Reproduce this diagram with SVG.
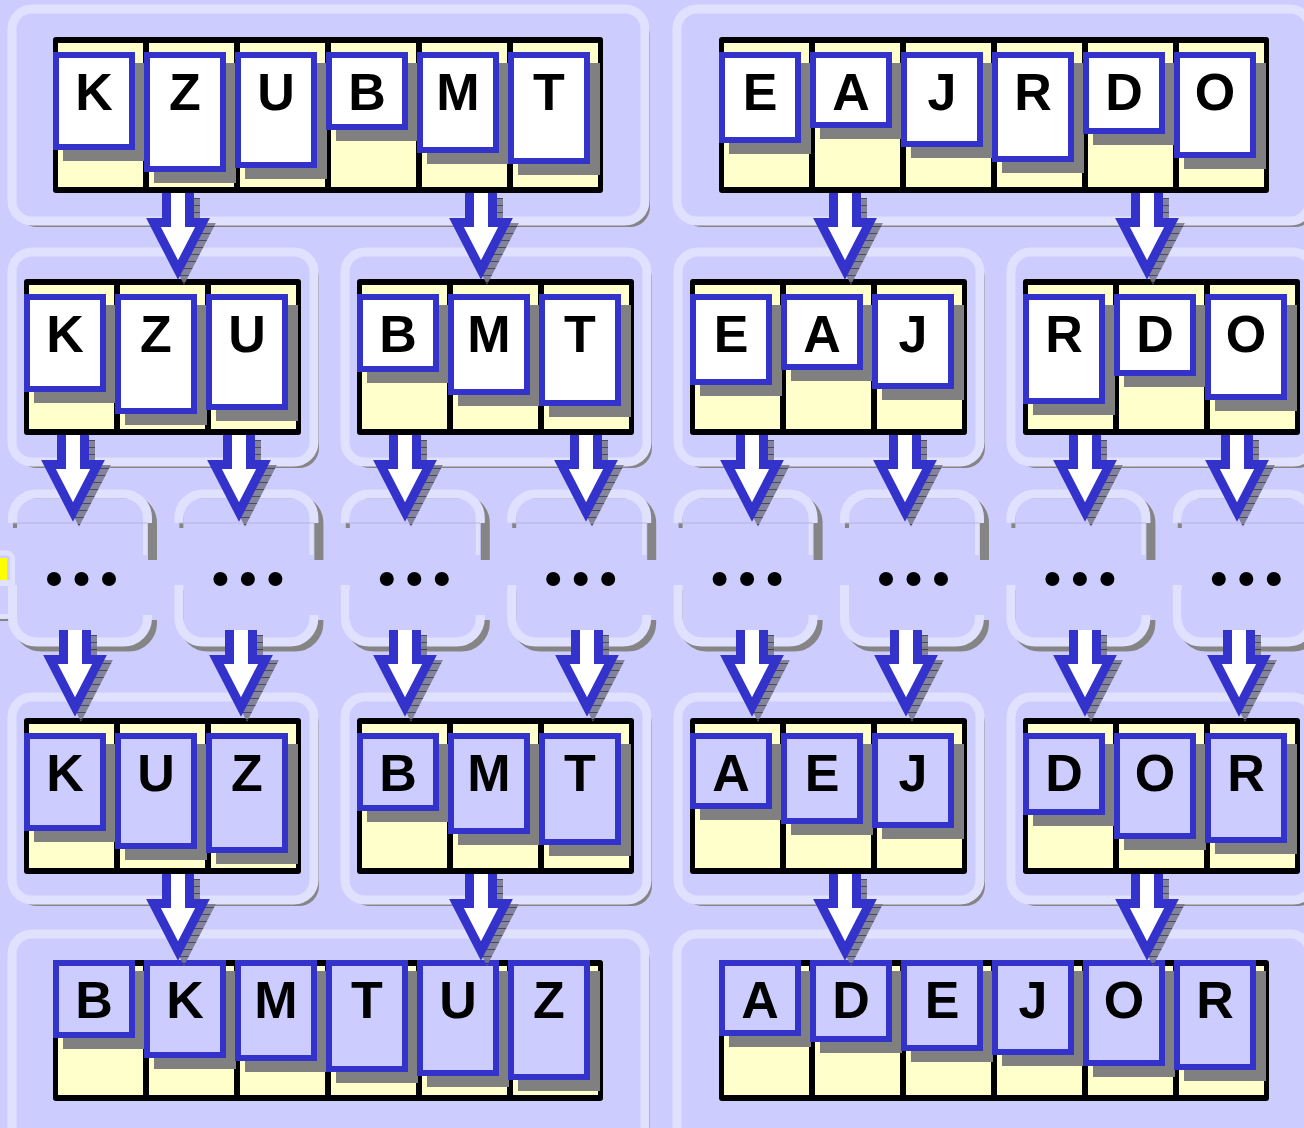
<svg xmlns="http://www.w3.org/2000/svg" xmlns:xlink="http://www.w3.org/1999/xlink" width="1304" height="1128" viewBox="0 0 1304 1128">
  <style>
    .pshadow { fill: #858585; }
    .panel { fill: #ccccff; stroke: #e0e0ff; stroke-width: 9; }
    .frame { fill: #000000; }
    .cell { fill: #ffffcc; }
    .cs { fill: #808080; }
    .card { fill: #ffffff; stroke: #3333cc; stroke-width: 6; }
    .done .card { fill: #ccccff; }
    .lbl { font-family: "Liberation Sans", Arial, sans-serif; font-weight: bold; font-size: 52px; text-anchor: middle; fill: #000000; }
    .dsh { fill: none; stroke: #858585; stroke-width: 9; }
    .dlt { fill: none; stroke: #e0e0ff; stroke-width: 9; }
    .dthin { stroke: #e0e0ff; stroke-width: 4; }
    .dcut { stroke: #b4b4dc; stroke-width: 1; }
    .dot { fill: #000000; }
  </style>
  <defs>
    <pattern id="hatch" width="6" height="7" patternUnits="userSpaceOnUse">
      <rect width="6" height="7" fill="#77778a"/>
      <rect width="6" height="1" fill="#333344"/>
    </pattern>
    <!-- block arrow, origin at top centre of the shaft -->
    <path id="arrowPath" d="M-11.5,0 V29.5 H-24.5 L0,77 L24.5,29.5 H11.5 V0"/>
    <g id="arrow">
      <use xlink:href="#arrowPath" x="6" y="5" fill="url(#hatch)" stroke="url(#hatch)" stroke-width="9" opacity="0.85"/>
      <use xlink:href="#arrowPath" fill="#ffffff" stroke="#3333cc" stroke-width="9"/>
    </g>
    <!-- partially drawn placeholder panel between the split and merge rows -->
    <path id="dTop" d="M0,523 V518 A24,24 0 0 1 24,494 H111 A24,24 0 0 1 135,518 V523"/>
    <path id="dTopS" d="M0,523 V518 A24,24 0 0 1 24,494 H111 A24,24 0 0 1 135,518 V555"/>
    <path id="dBot" d="M0,585 V618 A24,24 0 0 0 24,642 H111 A24,24 0 0 0 135,618 V615"/>
    <g id="dpanel">
      <use xlink:href="#dTopS" class="dsh" x="5" y="5"/>
      <use xlink:href="#dBot" class="dsh" x="5" y="5"/>
      <rect x="4.5" y="498.5" width="126" height="139" fill="#ccccff"/>
      <use xlink:href="#dTop" class="dlt"/>
      <line class="dthin" x1="132.5" y1="523" x2="132.5" y2="555"/>
      <use xlink:href="#dBot" class="dlt"/>
      <line class="dcut" x1="0" y1="523" x2="135" y2="523"/>
    </g>
  </defs>

  <rect width="1304" height="1128" fill="#ccccff"/>

  <!-- row 1: unsorted halves -->
  <g id="input-left">
    <rect class="pshadow" x="17" y="15" width="633" height="212" rx="20"/>
    <rect class="panel" x="12" y="9" width="633" height="212" rx="20"/>
    <rect class="frame" x="53" y="37" width="550" height="156" rx="3"/>
    <rect class="cell" x="58" y="43" width="85" height="144"/>
    <rect class="cell" x="149" y="43" width="85" height="144"/>
    <rect class="cell" x="240" y="43" width="85" height="144"/>
    <rect class="cell" x="331" y="43" width="85" height="144"/>
    <rect class="cell" x="422" y="43" width="85" height="144"/>
    <rect class="cell" x="513" y="43" width="85" height="144"/>
    <g transform="translate(53,52)"><rect class="cs" x="10" y="11" width="82" height="98"/><rect class="card" x="3" y="3" width="76" height="92"/><text class="lbl" x="41" y="58">K</text></g>
    <g transform="translate(144,52)"><rect class="cs" x="10" y="11" width="82" height="120"/><rect class="card" x="3" y="3" width="76" height="114"/><text class="lbl" x="41" y="58">Z</text></g>
    <g transform="translate(235,52)"><rect class="cs" x="10" y="11" width="82" height="116"/><rect class="card" x="3" y="3" width="76" height="110"/><text class="lbl" x="41" y="58">U</text></g>
    <g transform="translate(326,52)"><rect class="cs" x="10" y="11" width="82" height="78"/><rect class="card" x="3" y="3" width="76" height="72"/><text class="lbl" x="41" y="58">B</text></g>
    <g transform="translate(417,52)"><rect class="cs" x="10" y="11" width="82" height="101"/><rect class="card" x="3" y="3" width="76" height="95"/><text class="lbl" x="41" y="58">M</text></g>
    <g transform="translate(508,52)"><rect class="cs" x="10" y="11" width="82" height="112"/><rect class="card" x="3" y="3" width="76" height="106"/><text class="lbl" x="41" y="58">T</text></g>
  </g>

  <g id="input-right">
    <rect class="pshadow" x="682" y="15" width="633" height="212" rx="20"/>
    <rect class="panel" x="677" y="9" width="633" height="212" rx="20"/>
    <rect class="frame" x="719" y="37" width="550" height="156" rx="3"/>
    <rect class="cell" x="724" y="43" width="85" height="144"/>
    <rect class="cell" x="815" y="43" width="85" height="144"/>
    <rect class="cell" x="906" y="43" width="85" height="144"/>
    <rect class="cell" x="997" y="43" width="85" height="144"/>
    <rect class="cell" x="1088" y="43" width="85" height="144"/>
    <rect class="cell" x="1179" y="43" width="85" height="144"/>
    <g transform="translate(719,52)"><rect class="cs" x="10" y="11" width="82" height="91"/><rect class="card" x="3" y="3" width="76" height="85"/><text class="lbl" x="41" y="58">E</text></g>
    <g transform="translate(810,52)"><rect class="cs" x="10" y="11" width="82" height="76"/><rect class="card" x="3" y="3" width="76" height="70"/><text class="lbl" x="41" y="58">A</text></g>
    <g transform="translate(901,52)"><rect class="cs" x="10" y="11" width="82" height="95"/><rect class="card" x="3" y="3" width="76" height="89"/><text class="lbl" x="41" y="58">J</text></g>
    <g transform="translate(992,52)"><rect class="cs" x="10" y="11" width="82" height="110"/><rect class="card" x="3" y="3" width="76" height="104"/><text class="lbl" x="41" y="58">R</text></g>
    <g transform="translate(1083,52)"><rect class="cs" x="10" y="11" width="82" height="82"/><rect class="card" x="3" y="3" width="76" height="76"/><text class="lbl" x="41" y="58">D</text></g>
    <g transform="translate(1174,52)"><rect class="cs" x="10" y="11" width="82" height="106"/><rect class="card" x="3" y="3" width="76" height="100"/><text class="lbl" x="41" y="58">O</text></g>
  </g>

  <!-- row 2: split into thirds -->
  <g id="split-1">
    <rect class="pshadow" x="17" y="258" width="302" height="210" rx="20"/>
    <rect class="panel" x="12" y="252" width="302" height="210" rx="20"/>
    <rect class="frame" x="24" y="279" width="277" height="156" rx="3"/>
    <rect class="cell" x="29" y="285" width="85" height="144"/>
    <rect class="cell" x="120" y="285" width="85" height="144"/>
    <rect class="cell" x="211" y="285" width="85" height="144"/>
    <g transform="translate(24,294)"><rect class="cs" x="10" y="11" width="82" height="98"/><rect class="card" x="3" y="3" width="76" height="92"/><text class="lbl" x="41" y="58">K</text></g>
    <g transform="translate(115,294)"><rect class="cs" x="10" y="11" width="82" height="120"/><rect class="card" x="3" y="3" width="76" height="114"/><text class="lbl" x="41" y="58">Z</text></g>
    <g transform="translate(206,294)"><rect class="cs" x="10" y="11" width="82" height="116"/><rect class="card" x="3" y="3" width="76" height="110"/><text class="lbl" x="41" y="58">U</text></g>
  </g>

  <g id="split-2">
    <rect class="pshadow" x="350" y="258" width="302" height="210" rx="20"/>
    <rect class="panel" x="345" y="252" width="302" height="210" rx="20"/>
    <rect class="frame" x="357" y="279" width="277" height="156" rx="3"/>
    <rect class="cell" x="362" y="285" width="85" height="144"/>
    <rect class="cell" x="453" y="285" width="85" height="144"/>
    <rect class="cell" x="544" y="285" width="85" height="144"/>
    <g transform="translate(357,294)"><rect class="cs" x="10" y="11" width="82" height="78"/><rect class="card" x="3" y="3" width="76" height="72"/><text class="lbl" x="41" y="58">B</text></g>
    <g transform="translate(448,294)"><rect class="cs" x="10" y="11" width="82" height="101"/><rect class="card" x="3" y="3" width="76" height="95"/><text class="lbl" x="41" y="58">M</text></g>
    <g transform="translate(539,294)"><rect class="cs" x="10" y="11" width="82" height="112"/><rect class="card" x="3" y="3" width="76" height="106"/><text class="lbl" x="41" y="58">T</text></g>
  </g>

  <g id="split-3">
    <rect class="pshadow" x="683" y="258" width="302" height="210" rx="20"/>
    <rect class="panel" x="678" y="252" width="302" height="210" rx="20"/>
    <rect class="frame" x="690" y="279" width="277" height="156" rx="3"/>
    <rect class="cell" x="695" y="285" width="85" height="144"/>
    <rect class="cell" x="786" y="285" width="85" height="144"/>
    <rect class="cell" x="877" y="285" width="85" height="144"/>
    <g transform="translate(690,294)"><rect class="cs" x="10" y="11" width="82" height="91"/><rect class="card" x="3" y="3" width="76" height="85"/><text class="lbl" x="41" y="58">E</text></g>
    <g transform="translate(781,294)"><rect class="cs" x="10" y="11" width="82" height="76"/><rect class="card" x="3" y="3" width="76" height="70"/><text class="lbl" x="41" y="58">A</text></g>
    <g transform="translate(872,294)"><rect class="cs" x="10" y="11" width="82" height="95"/><rect class="card" x="3" y="3" width="76" height="89"/><text class="lbl" x="41" y="58">J</text></g>
  </g>

  <g id="split-4">
    <rect class="pshadow" x="1016" y="258" width="302" height="210" rx="20"/>
    <rect class="panel" x="1011" y="252" width="302" height="210" rx="20"/>
    <rect class="frame" x="1023" y="279" width="277" height="156" rx="3"/>
    <rect class="cell" x="1028" y="285" width="85" height="144"/>
    <rect class="cell" x="1119" y="285" width="85" height="144"/>
    <rect class="cell" x="1210" y="285" width="85" height="144"/>
    <g transform="translate(1023,294)"><rect class="cs" x="10" y="11" width="82" height="110"/><rect class="card" x="3" y="3" width="76" height="104"/><text class="lbl" x="41" y="58">R</text></g>
    <g transform="translate(1114,294)"><rect class="cs" x="10" y="11" width="82" height="82"/><rect class="card" x="3" y="3" width="76" height="76"/><text class="lbl" x="41" y="58">D</text></g>
    <g transform="translate(1205,294)"><rect class="cs" x="10" y="11" width="82" height="106"/><rect class="card" x="3" y="3" width="76" height="100"/><text class="lbl" x="41" y="58">O</text></g>
  </g>

  <!-- row 3: elided recursion -->
  <g id="edge-box">
    <rect x="-6" y="557" width="21" height="64" rx="6" fill="#858585"/>
    <rect x="-40" y="553" width="52.5" height="63.5" rx="6" fill="#ccccff" stroke="#e0e0ff" stroke-width="5"/>
    <rect x="0" y="558" width="7" height="22" fill="#ffff00"/>
    <rect x="0" y="580" width="13" height="6" fill="#e0e0ff"/>
  </g>
  <g id="pending-1"><use xlink:href="#dpanel" x="12.5"/><circle class="dot" cx="54" cy="579" r="7"/><circle class="dot" cx="81.5" cy="579" r="7"/><circle class="dot" cx="109" cy="579" r="7"/></g>
  <g id="pending-2"><use xlink:href="#dpanel" x="178.9"/><circle class="dot" cx="220.4" cy="579" r="7"/><circle class="dot" cx="247.9" cy="579" r="7"/><circle class="dot" cx="275.4" cy="579" r="7"/></g>
  <g id="pending-3"><use xlink:href="#dpanel" x="345.3"/><circle class="dot" cx="386.8" cy="579" r="7"/><circle class="dot" cx="414.3" cy="579" r="7"/><circle class="dot" cx="441.8" cy="579" r="7"/></g>
  <g id="pending-4"><use xlink:href="#dpanel" x="511.7"/><circle class="dot" cx="553.2" cy="579" r="7"/><circle class="dot" cx="580.7" cy="579" r="7"/><circle class="dot" cx="608.2" cy="579" r="7"/></g>
  <g id="pending-5"><use xlink:href="#dpanel" x="678.1"/><circle class="dot" cx="719.6" cy="579" r="7"/><circle class="dot" cx="747.1" cy="579" r="7"/><circle class="dot" cx="774.6" cy="579" r="7"/></g>
  <g id="pending-6"><use xlink:href="#dpanel" x="844.5"/><circle class="dot" cx="886" cy="579" r="7"/><circle class="dot" cx="913.5" cy="579" r="7"/><circle class="dot" cx="941" cy="579" r="7"/></g>
  <g id="pending-7"><use xlink:href="#dpanel" x="1010.9"/><circle class="dot" cx="1052.4" cy="579" r="7"/><circle class="dot" cx="1079.9" cy="579" r="7"/><circle class="dot" cx="1107.4" cy="579" r="7"/></g>
  <g id="pending-8"><use xlink:href="#dpanel" x="1177.3"/><circle class="dot" cx="1218.8" cy="579" r="7"/><circle class="dot" cx="1246.3" cy="579" r="7"/><circle class="dot" cx="1273.8" cy="579" r="7"/></g>

  <!-- row 4: sorted thirds -->
  <g id="sorted-1" class="done">
    <rect class="pshadow" x="17" y="703" width="302" height="203" rx="20"/>
    <rect class="panel" x="12" y="697" width="302" height="203" rx="20"/>
    <rect class="frame" x="24" y="718" width="277" height="156" rx="3"/>
    <rect class="cell" x="29" y="724" width="85" height="144"/>
    <rect class="cell" x="120" y="724" width="85" height="144"/>
    <rect class="cell" x="211" y="724" width="85" height="144"/>
    <g transform="translate(24,733)"><rect class="cs" x="10" y="11" width="82" height="98"/><rect class="card" x="3" y="3" width="76" height="92"/><text class="lbl" x="41" y="58">K</text></g>
    <g transform="translate(115,733)"><rect class="cs" x="10" y="11" width="82" height="116"/><rect class="card" x="3" y="3" width="76" height="110"/><text class="lbl" x="41" y="58">U</text></g>
    <g transform="translate(206,733)"><rect class="cs" x="10" y="11" width="82" height="120"/><rect class="card" x="3" y="3" width="76" height="114"/><text class="lbl" x="41" y="58">Z</text></g>
  </g>

  <g id="sorted-2" class="done">
    <rect class="pshadow" x="350" y="703" width="302" height="203" rx="20"/>
    <rect class="panel" x="345" y="697" width="302" height="203" rx="20"/>
    <rect class="frame" x="357" y="718" width="277" height="156" rx="3"/>
    <rect class="cell" x="362" y="724" width="85" height="144"/>
    <rect class="cell" x="453" y="724" width="85" height="144"/>
    <rect class="cell" x="544" y="724" width="85" height="144"/>
    <g transform="translate(357,733)"><rect class="cs" x="10" y="11" width="82" height="78"/><rect class="card" x="3" y="3" width="76" height="72"/><text class="lbl" x="41" y="58">B</text></g>
    <g transform="translate(448,733)"><rect class="cs" x="10" y="11" width="82" height="101"/><rect class="card" x="3" y="3" width="76" height="95"/><text class="lbl" x="41" y="58">M</text></g>
    <g transform="translate(539,733)"><rect class="cs" x="10" y="11" width="82" height="112"/><rect class="card" x="3" y="3" width="76" height="106"/><text class="lbl" x="41" y="58">T</text></g>
  </g>

  <g id="sorted-3" class="done">
    <rect class="pshadow" x="683" y="703" width="302" height="203" rx="20"/>
    <rect class="panel" x="678" y="697" width="302" height="203" rx="20"/>
    <rect class="frame" x="690" y="718" width="277" height="156" rx="3"/>
    <rect class="cell" x="695" y="724" width="85" height="144"/>
    <rect class="cell" x="786" y="724" width="85" height="144"/>
    <rect class="cell" x="877" y="724" width="85" height="144"/>
    <g transform="translate(690,733)"><rect class="cs" x="10" y="11" width="82" height="76"/><rect class="card" x="3" y="3" width="76" height="70"/><text class="lbl" x="41" y="58">A</text></g>
    <g transform="translate(781,733)"><rect class="cs" x="10" y="11" width="82" height="91"/><rect class="card" x="3" y="3" width="76" height="85"/><text class="lbl" x="41" y="58">E</text></g>
    <g transform="translate(872,733)"><rect class="cs" x="10" y="11" width="82" height="95"/><rect class="card" x="3" y="3" width="76" height="89"/><text class="lbl" x="41" y="58">J</text></g>
  </g>

  <g id="sorted-4" class="done">
    <rect class="pshadow" x="1016" y="703" width="302" height="203" rx="20"/>
    <rect class="panel" x="1011" y="697" width="302" height="203" rx="20"/>
    <rect class="frame" x="1023" y="718" width="277" height="156" rx="3"/>
    <rect class="cell" x="1028" y="724" width="85" height="144"/>
    <rect class="cell" x="1119" y="724" width="85" height="144"/>
    <rect class="cell" x="1210" y="724" width="85" height="144"/>
    <g transform="translate(1023,733)"><rect class="cs" x="10" y="11" width="82" height="82"/><rect class="card" x="3" y="3" width="76" height="76"/><text class="lbl" x="41" y="58">D</text></g>
    <g transform="translate(1114,733)"><rect class="cs" x="10" y="11" width="82" height="106"/><rect class="card" x="3" y="3" width="76" height="100"/><text class="lbl" x="41" y="58">O</text></g>
    <g transform="translate(1205,733)"><rect class="cs" x="10" y="11" width="82" height="110"/><rect class="card" x="3" y="3" width="76" height="104"/><text class="lbl" x="41" y="58">R</text></g>
  </g>

  <!-- row 5: merged halves -->
  <g id="merged-left" class="done">
    <rect class="pshadow" x="17" y="940" width="633" height="220" rx="20"/>
    <rect class="panel" x="12" y="934" width="633" height="220" rx="20"/>
    <rect class="frame" x="53" y="960" width="550" height="141" rx="3"/>
    <rect class="cell" x="58" y="966" width="85" height="129"/>
    <rect class="cell" x="149" y="966" width="85" height="129"/>
    <rect class="cell" x="240" y="966" width="85" height="129"/>
    <rect class="cell" x="331" y="966" width="85" height="129"/>
    <rect class="cell" x="422" y="966" width="85" height="129"/>
    <rect class="cell" x="513" y="966" width="85" height="129"/>
    <g transform="translate(53,960)"><rect class="cs" x="10" y="11" width="82" height="78"/><rect class="card" x="3" y="3" width="76" height="72"/><text class="lbl" x="41" y="58">B</text></g>
    <g transform="translate(144,960)"><rect class="cs" x="10" y="11" width="82" height="98"/><rect class="card" x="3" y="3" width="76" height="92"/><text class="lbl" x="41" y="58">K</text></g>
    <g transform="translate(235,960)"><rect class="cs" x="10" y="11" width="82" height="101"/><rect class="card" x="3" y="3" width="76" height="95"/><text class="lbl" x="41" y="58">M</text></g>
    <g transform="translate(326,960)"><rect class="cs" x="10" y="11" width="82" height="112"/><rect class="card" x="3" y="3" width="76" height="106"/><text class="lbl" x="41" y="58">T</text></g>
    <g transform="translate(417,960)"><rect class="cs" x="10" y="11" width="82" height="116"/><rect class="card" x="3" y="3" width="76" height="110"/><text class="lbl" x="41" y="58">U</text></g>
    <g transform="translate(508,960)"><rect class="cs" x="10" y="11" width="82" height="120"/><rect class="card" x="3" y="3" width="76" height="114"/><text class="lbl" x="41" y="58">Z</text></g>
  </g>

  <g id="merged-right" class="done">
    <rect class="pshadow" x="682" y="940" width="633" height="220" rx="20"/>
    <rect class="panel" x="677" y="934" width="633" height="220" rx="20"/>
    <rect class="frame" x="719" y="960" width="550" height="141" rx="3"/>
    <rect class="cell" x="724" y="966" width="85" height="129"/>
    <rect class="cell" x="815" y="966" width="85" height="129"/>
    <rect class="cell" x="906" y="966" width="85" height="129"/>
    <rect class="cell" x="997" y="966" width="85" height="129"/>
    <rect class="cell" x="1088" y="966" width="85" height="129"/>
    <rect class="cell" x="1179" y="966" width="85" height="129"/>
    <g transform="translate(719,960)"><rect class="cs" x="10" y="11" width="82" height="76"/><rect class="card" x="3" y="3" width="76" height="70"/><text class="lbl" x="41" y="58">A</text></g>
    <g transform="translate(810,960)"><rect class="cs" x="10" y="11" width="82" height="82"/><rect class="card" x="3" y="3" width="76" height="76"/><text class="lbl" x="41" y="58">D</text></g>
    <g transform="translate(901,960)"><rect class="cs" x="10" y="11" width="82" height="91"/><rect class="card" x="3" y="3" width="76" height="85"/><text class="lbl" x="41" y="58">E</text></g>
    <g transform="translate(992,960)"><rect class="cs" x="10" y="11" width="82" height="95"/><rect class="card" x="3" y="3" width="76" height="89"/><text class="lbl" x="41" y="58">J</text></g>
    <g transform="translate(1083,960)"><rect class="cs" x="10" y="11" width="82" height="106"/><rect class="card" x="3" y="3" width="76" height="100"/><text class="lbl" x="41" y="58">O</text></g>
    <g transform="translate(1174,960)"><rect class="cs" x="10" y="11" width="82" height="110"/><rect class="card" x="3" y="3" width="76" height="104"/><text class="lbl" x="41" y="58">R</text></g>
  </g>

  <!-- connectors: block arrows between stages -->
  <g id="connectors">
    <use xlink:href="#arrow" x="178" y="193"/>
    <use xlink:href="#arrow" x="481" y="193"/>
    <use xlink:href="#arrow" x="845" y="193"/>
    <use xlink:href="#arrow" x="1147" y="193"/>

    <use xlink:href="#arrow" x="73" y="435"/>
    <use xlink:href="#arrow" x="239" y="435"/>
    <use xlink:href="#arrow" x="405" y="435"/>
    <use xlink:href="#arrow" x="586" y="435"/>
    <use xlink:href="#arrow" x="752" y="435"/>
    <use xlink:href="#arrow" x="905" y="435"/>
    <use xlink:href="#arrow" x="1085" y="435"/>
    <use xlink:href="#arrow" x="1237" y="435"/>

    <use xlink:href="#arrow" x="75" y="630"/>
    <use xlink:href="#arrow" x="241" y="630"/>
    <use xlink:href="#arrow" x="405" y="630"/>
    <use xlink:href="#arrow" x="587" y="630"/>
    <use xlink:href="#arrow" x="752" y="630"/>
    <use xlink:href="#arrow" x="906" y="630"/>
    <use xlink:href="#arrow" x="1085" y="630"/>
    <use xlink:href="#arrow" x="1239" y="630"/>

    <use xlink:href="#arrow" x="178" y="874"/>
    <use xlink:href="#arrow" x="481" y="874"/>
    <use xlink:href="#arrow" x="845" y="874"/>
    <use xlink:href="#arrow" x="1147" y="874"/>
  </g>
</svg>
